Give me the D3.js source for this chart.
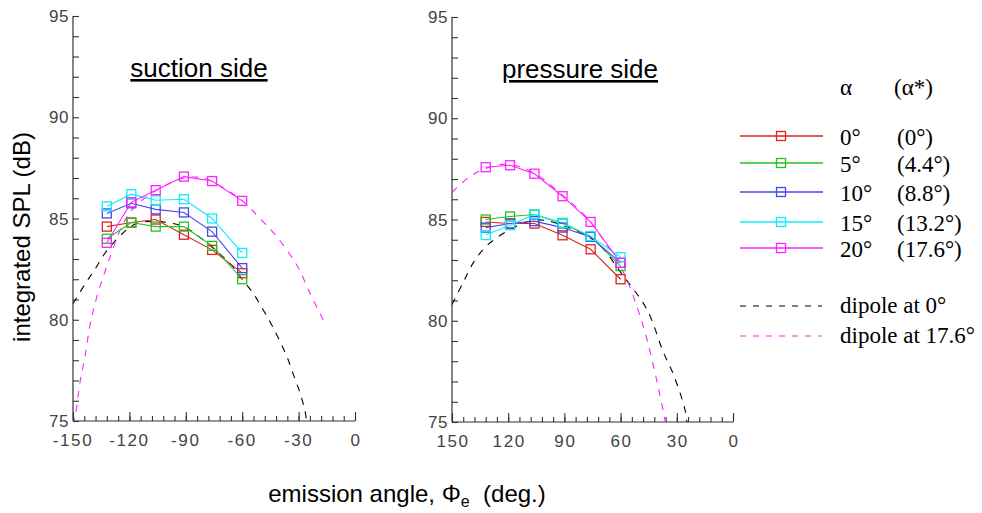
<!DOCTYPE html>
<html>
<head>
<meta charset="utf-8">
<script src="https://cdn.jsdelivr.net/npm/d3@7"></script>
<style>
  html, body { margin: 0; padding: 0; background: #fff; }
  svg { display: block; }
</style>
</head>
<body>
<svg id="chart" width="982" height="513"></svg>
<script>
// ---------------- DATA ----------------
const suctionAngles  = [-132, -119, -106, -91, -76, -60];
const pressureAngles = [132, 119, 106, 91, 76, 60];

const alphaLabels    = ["0°", "5°", "10°", "15°", "20°"];
const alphaStarLabels = ["(0°)", "(4.4°)", "(8.8°)", "(13.2°)", "(17.6°)"];
const dipoleLabels   = ["dipole at 0°", "dipole at 17.6°"];

const suctionA0  = [84.60, 84.80, 84.95, 84.20, 83.45, 82.30];
const suctionA5  = [84.00, 84.80, 84.60, 84.60, 83.65, 82.00];
const suctionA10 = [85.25, 85.75, 85.45, 85.30, 84.35, 82.55];
const suctionA15 = [85.60, 86.20, 85.90, 85.95, 85.00, 83.30];
const suctionA20 = [83.80, 85.80, 86.40, 87.07, 86.85, 85.87];

const pressureA0  = [84.88, 84.80, 84.80, 84.22, 83.53, 82.05];
const pressureA5  = [85.00, 85.15, 85.25, 84.80, 84.15, 82.70];
const pressureA10 = [84.60, 84.80, 84.92, 84.60, 84.14, 82.86];
const pressureA15 = [84.23, 84.72, 85.25, 84.84, 84.18, 83.14];
const pressureA20 = [87.58, 87.68, 87.26, 86.15, 84.88, 82.86];

// dipole reference curves
const suctionDip0Angle = [-150, -144, -138.3, -132.1, -123.2, -116.1, -105.5, -91.3, -78.9, -64.7, -60, -54.1, -50.5, -45.2, -40.8, -36.3, -32.8, -29.3, -26.6, -25.6];
const suctionDip0SPL   = [80.8, 81.7, 82.5, 83.4, 84.3, 84.75, 84.85, 84.6, 83.8, 82.6, 82.0, 81.3, 80.75, 79.9, 79.1, 78.2, 77.3, 76.4, 75.5, 74.9];
const suctionDip18Angle = [-150.3, -148.9, -146.3, -143.6, -141, -137.4, -130.3, -124.1, -118, -105.5, -91.3, -82.4, -75.4, -60.3, -50.5, -41.6, -31, -23.9, -16.9];
const suctionDip18SPL   = [74.8, 75.2, 76.9, 78.2, 79.7, 81.1, 83.1, 84.6, 85.5, 86.4, 86.99, 87.03, 86.8, 85.9, 85.0, 84.1, 82.7, 81.3, 80.0];
const pressureDip0Angle = [150, 144, 138.6, 131.5, 119, 104.8, 90.6, 72.7, 58.5, 46, 37.2, 31.8, 25.6, 24.5];
const pressureDip0SPL   = [80.8, 81.9, 82.87, 83.7, 84.5, 84.98, 84.7, 83.86, 82.2, 80.57, 78.45, 77.35, 75.6, 74.9];
const pressureDip18Angle = [150, 142.2, 133.3, 120.8, 106.6, 90.6, 78.1, 69.2, 58.5, 51.4, 46, 40.7, 36.3, 35.8];
const pressureDip18SPL   = [86.33, 87.0, 87.48, 87.73, 87.32, 86.16, 85.1, 84.0, 82.4, 80.73, 79.1, 77.05, 75.1, 74.8];

const yTickValues = [75, 80, 85, 90, 95];
const suctionTickValues  = [-150, -120, -90, -60, -30, 0];
const pressureTickValues = [150, 120, 90, 60, 30, 0];

// ---------------- STYLE ----------------
const seriesColors = ["#e02222", "#22c322", "#4848f0", "#10ecff", "#ff22ff"];
const dipoleColors = ["#000000", "#ff22ff"];
const sansFont  = "'Liberation Sans', Arial, sans-serif";
const serifFont = "'Liberation Serif', 'Times New Roman', serif";

const svg = d3.select("#chart");
svg.append("rect").attr("width", 982).attr("height", 513).attr("fill", "#fff");

function drawPanel(cfg) {
  const x = d3.scaleLinear().domain(cfg.xDomain).range([cfg.left, cfg.right]);
  const y = d3.scaleLinear().domain([75, 95]).range([cfg.bottom, cfg.top]);
  const g = svg.append("g");

  const clipId = "clip-" + cfg.id;
  svg.append("defs").append("clipPath").attr("id", clipId)
    .append("rect")
    .attr("x", cfg.left).attr("y", cfg.top)
    .attr("width", cfg.right - cfg.left).attr("height", cfg.bottom - cfg.top);

  // y axis
  const yAxis = d3.axisRight(y).tickValues(d3.range(75, 96, 1)).tickSize(6).tickFormat("");
  const ya = g.append("g").attr("transform", `translate(${cfg.left},0)`).call(yAxis);
  ya.select(".domain").attr("stroke", "#333").attr("stroke-width", 1.2).attr("d", `M0,${cfg.top}V${cfg.bottom}`);
  ya.selectAll(".tick line").attr("stroke", "#333").attr("stroke-width", 1.1);
  g.append("g").selectAll("text").data(yTickValues).join("text")
    .attr("x", cfg.left - 4).attr("y", d => y(d) + 6)
    .attr("text-anchor", "end")
    .attr("font-family", sansFont).attr("font-size", 17).attr("letter-spacing", 0.5)
    .attr("fill", "#444").text(d => d);

  // x axis: minor every 6 deg, major every 30 deg
  const lo = Math.min(...cfg.xDomain), hi = Math.max(...cfg.xDomain);
  const minor = d3.range(lo, hi + 0.1, 6);
  const xAxisMinor = d3.axisTop(x).tickValues(minor).tickSize(5).tickFormat("");
  const xa = g.append("g").attr("transform", `translate(0,${cfg.bottom})`).call(xAxisMinor);
  xa.select(".domain").attr("stroke", "#333").attr("stroke-width", 1.2).attr("d", `M${cfg.left},0H${cfg.right}`);
  xa.selectAll(".tick line").attr("stroke", "#333").attr("stroke-width", 1.1);
  const xAxisMajor = d3.axisTop(x).tickValues(cfg.xTicks).tickSize(9).tickFormat("");
  const xb = g.append("g").attr("transform", `translate(0,${cfg.bottom})`).call(xAxisMajor);
  xb.select(".domain").remove();
  xb.selectAll(".tick line").attr("stroke", "#333").attr("stroke-width", 1.1);
  g.append("g").selectAll("text").data(cfg.xTicks).join("text")
    .attr("x", d => x(d) + (d < 0 ? 0 : 1)).attr("y", cfg.bottom + 25)
    .attr("text-anchor", "middle")
    .attr("font-family", sansFont).attr("font-size", 17).attr("letter-spacing", 1.6)
    .attr("fill", "#444").text(d => d < 0 ? "-" + Math.abs(d) : String(d));

  // panel title
  g.append("text")
    .attr("x", cfg.titleX).attr("y", cfg.top + 61)
    .attr("text-anchor", "middle")
    .attr("font-family", sansFont).attr("font-size", 26)
    .attr("text-decoration", "underline")
    .attr("fill", "#000").text(cfg.title);

  const plot = g.append("g").attr("clip-path", `url(#${clipId})`);
  const line = d3.line().x(d => x(d[0])).y(d => y(d[1]));
  const curve = d3.line().x(d => x(d[0])).y(d => y(d[1])).curve(d3.curveCatmullRom.alpha(0.5));

  // dipole curves
  cfg.dipoles.forEach((dp, i) => {
    const pts = dp.angles.map((a, k) => [a, dp.spl[k]]);
    plot.append("path").attr("d", curve(pts))
      .attr("fill", "none").attr("stroke", dipoleColors[i])
      .attr("stroke-width", 1.1).attr("stroke-dasharray", "7,7");
  });

  // measured series
  cfg.series.forEach((vals, i) => {
    const pts = cfg.angles.map((a, k) => [a, vals[k]]);
    plot.append("path").attr("d", line(pts))
      .attr("fill", "none").attr("stroke", seriesColors[i]).attr("stroke-width", 1.1);
    g.append("g").selectAll("rect").data(pts).join("rect")
      .attr("x", d => x(d[0]) - 4.5).attr("y", d => y(d[1]) - 4.5)
      .attr("width", 9).attr("height", 9)
      .attr("fill", "none").attr("stroke", seriesColors[i]).attr("stroke-width", 1.3);
  });
}

drawPanel({
  id: "suction", xDomain: [-150, 0], left: 73, right: 355, top: 16, bottom: 421,
  xTicks: suctionTickValues, title: "suction side", titleX: 199,
  angles: suctionAngles,
  series: [suctionA0, suctionA5, suctionA10, suctionA15, suctionA20],
  dipoles: [{angles: suctionDip0Angle, spl: suctionDip0SPL}, {angles: suctionDip18Angle, spl: suctionDip18SPL}]
});

drawPanel({
  id: "pressure", xDomain: [150, 0], left: 452, right: 733, top: 17, bottom: 422,
  xTicks: pressureTickValues, title: "pressure side", titleX: 580,
  angles: pressureAngles,
  series: [pressureA0, pressureA5, pressureA10, pressureA15, pressureA20],
  dipoles: [{angles: pressureDip0Angle, spl: pressureDip0SPL}, {angles: pressureDip18Angle, spl: pressureDip18SPL}]
});

// axis titles
svg.append("text")
  .attr("transform", "translate(30,237) rotate(-90)")
  .attr("text-anchor", "middle")
  .attr("font-family", sansFont).attr("font-size", 24).attr("fill", "#000")
  .text("integrated SPL (dB)");

const xt = svg.append("text")
  .attr("x", 407).attr("y", 502)
  .attr("text-anchor", "middle")
  .attr("font-family", sansFont).attr("font-size", 24).attr("fill", "#000");
xt.append("tspan").text("emission angle, Φ");
xt.append("tspan").attr("font-size", 16).attr("dy", 5).text("e");
xt.append("tspan").attr("dy", -5).text("\u00a0\u00a0(deg.)");

// legend
const legend = svg.append("g").attr("font-family", serifFont).attr("font-size", 23).attr("fill", "#000");
legend.append("text").attr("x", 840).attr("y", 95).text("α");
legend.append("text").attr("x", 894).attr("y", 95).text("(α*)");
const rowY = [136, 163, 192, 222, 248];
alphaLabels.forEach((lab, i) => {
  const yy = rowY[i];
  legend.append("line").attr("x1", 740).attr("x2", 823).attr("y1", yy).attr("y2", yy)
    .attr("stroke", seriesColors[i]).attr("stroke-width", 1.3);
  legend.append("rect").attr("x", 781 - 4.5).attr("y", yy - 4.5).attr("width", 9).attr("height", 9)
    .attr("fill", "none").attr("stroke", seriesColors[i]).attr("stroke-width", 1.3);
  legend.append("text").attr("x", 840).attr("y", yy + 9).text(lab);
  legend.append("text").attr("x", 897).attr("y", yy + 9).text(alphaStarLabels[i]);
});
const dipRowY = [306, 336];
dipoleLabels.forEach((lab, i) => {
  const yy = dipRowY[i];
  legend.append("line").attr("x1", 740).attr("x2", 822).attr("y1", yy).attr("y2", yy)
    .attr("stroke", dipoleColors[i]).attr("stroke-width", 1.2).attr("stroke-dasharray", "6,7");
  legend.append("text").attr("x", 840).attr("y", yy + 7).text(lab);
});
</script>
</body>
</html>
